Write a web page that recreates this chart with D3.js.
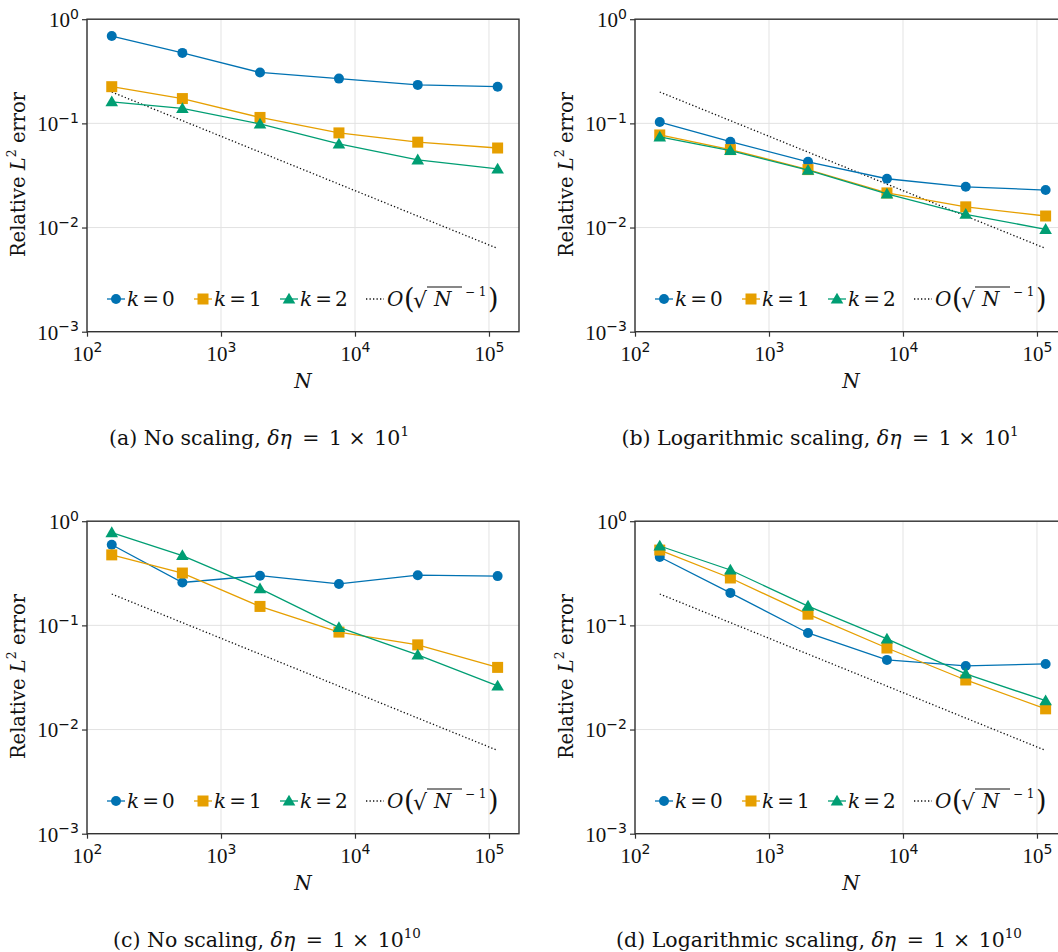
<!DOCTYPE html>
<html><head><meta charset="utf-8">
<script src="https://cdn.jsdelivr.net/npm/d3@7"></script>
<style>
body{margin:0;background:#fff;}
svg{display:block;}
</style></head>
<body>
<svg id="chart" width="1058" height="952"></svg>
<script>
// ---------- data ----------
const N = [153, 515, 1955, 7590, 29400, 116000];
const refN = [153, 116000];
const refY = [0.2, 0.0063];

const seriesNames = ["k = 0", "k = 1", "k = 2"];
const seriesColors = ["#0072B2", "#E69F00", "#009E73"];
const seriesShapes = ["circle", "square", "triangle"];

// (a) No scaling, dη = 1e1
const a_k0 = [0.689, 0.475, 0.308, 0.269, 0.234, 0.225];
const a_k1 = [0.225, 0.173, 0.114, 0.081, 0.066, 0.058];
const a_k2 = [0.161, 0.139, 0.0987, 0.0634, 0.0446, 0.0365];
// (b) Logarithmic scaling, dη = 1e1
const b_k0 = [0.103, 0.0667, 0.0427, 0.0294, 0.0246, 0.0229];
const b_k1 = [0.0774, 0.0560, 0.0360, 0.0215, 0.0158, 0.0129];
const b_k2 = [0.0741, 0.0548, 0.0355, 0.0210, 0.0134, 0.0096];
// (c) No scaling, dη = 1e10
const c_k0 = [0.594, 0.258, 0.300, 0.250, 0.303, 0.297];
const c_k1 = [0.475, 0.318, 0.152, 0.0862, 0.0650, 0.0395];
const c_k2 = [0.776, 0.468, 0.225, 0.0955, 0.0520, 0.0262];
// (d) Logarithmic scaling, dη = 1e10
const d_k0 = [0.453, 0.205, 0.0845, 0.0466, 0.0408, 0.0426];
const d_k1 = [0.528, 0.285, 0.128, 0.0606, 0.0299, 0.0158];
const d_k2 = [0.578, 0.340, 0.153, 0.0741, 0.0342, 0.0189];

const xTicks = [1e2, 1e3, 1e4, 1e5];
const xTickExp = ["2", "3", "4", "5"];
const yTicks = [1e-3, 1e-2, 1e-1, 1e0];
const yTickExp = ["\u22123", "\u22122", "\u22121", "0"];

const captionLabels = ["(a) No scaling, ", "(b) Logarithmic scaling, ", "(c) No scaling, ", "(d) Logarithmic scaling, "];
const captionExp = ["1", "1", "10", "10"];

const panels = [
  {ox: 0, oy: 0, data: [a_k0, a_k1, a_k2], cx: 259},
  {ox: 548, oy: 0, data: [b_k0, b_k1, b_k2], cx: 272},
  {ox: 0, oy: 502, data: [c_k0, c_k1, c_k2], cx: 267},
  {ox: 548, oy: 502, data: [d_k0, d_k1, d_k2], cx: 271}
];

// ---------- drawing ----------
const SERIF = "DejaVu Serif";
const DIGIT = "Liberation Serif";
const svg = d3.select("#chart");
const L = 87, R = 519, T = 19.2, B = 331.7;
const x = d3.scaleLog().domain([100, 1.675e5]).range([L, R]);
const y = d3.scaleLog().domain([1e-3, 1]).range([B, T]);

function marker(g, shape, color, cx, cy) {
  if (shape === "circle") {
    g.append("circle").attr("cx", cx).attr("cy", cy).attr("r", 5).attr("fill", color);
  } else if (shape === "square") {
    g.append("rect").attr("x", cx - 5.5).attr("y", cy - 5.5).attr("width", 11).attr("height", 11).attr("fill", color);
  } else {
    const s = 6.3;
    g.append("path").attr("d", `M${cx},${cy - s}L${cx + s},${cy + s * 0.72}L${cx - s},${cy + s * 0.72}Z`).attr("fill", color);
  }
}

panels.forEach((p, pi) => {
  const g = svg.append("g").attr("transform", `translate(${p.ox},${p.oy})`);

  // grid
  g.append("g").selectAll("line").data(xTicks).join("line")
    .attr("x1", d => x(d)).attr("x2", d => x(d)).attr("y1", T).attr("y2", B)
    .attr("stroke", "#e3e3e3").attr("stroke-width", 1);
  g.append("g").selectAll("line").data(yTicks).join("line")
    .attr("x1", L).attr("x2", R).attr("y1", d => y(d)).attr("y2", d => y(d))
    .attr("stroke", "#e3e3e3").attr("stroke-width", 1);

  // axes
  const xa = g.append("g").attr("transform", `translate(0,${B})`)
    .call(d3.axisBottom(x).tickValues(xTicks).tickSize(5).tickPadding(8).tickFormat(() => ""));
  const ya = g.append("g").attr("transform", `translate(${L},0)`)
    .call(d3.axisLeft(y).tickValues(yTicks).tickSize(5).tickPadding(6).tickFormat(() => ""));
  [xa, ya].forEach(a => {
    a.select(".domain").remove();
    a.selectAll(".tick line").attr("stroke", "#333").attr("stroke-width", 1.2);
  });
  xa.selectAll(".tick text").each(function(d, i) {
    const t = d3.select(this).attr("font-size", 21).attr("font-family", DIGIT).attr("fill", "#111")
      .attr("dy", "1em").attr("y", 8);
    t.text("10");
    t.append("tspan").attr("font-size", 14).attr("dy", "-0.6em").attr("font-family", "DejaVu Sans").text(xTickExp[i]);
  });
  ya.selectAll(".tick text").each(function(d, i) {
    const t = d3.select(this).attr("font-size", 21).attr("font-family", DIGIT).attr("fill", "#111")
      .attr("dy", "0.35em").attr("x", -8);
    t.text("10");
    t.append("tspan").attr("font-size", 14).attr("dy", "-0.6em").attr("font-family", "DejaVu Sans").text(yTickExp[i]);
  });

  // frame
  g.append("rect").attr("x", L).attr("y", T).attr("width", R - L).attr("height", B - T)
    .attr("fill", "none").attr("stroke", "#333").attr("stroke-width", 1.4);

  // reference line
  g.append("path").datum(refN.map((n, i) => [n, refY[i]]))
    .attr("d", d3.line().x(d => x(d[0])).y(d => y(d[1])))
    .attr("fill", "none").attr("stroke", "#111").attr("stroke-width", 1.3).attr("stroke-dasharray", "1.3,2.2");

  // series
  p.data.forEach((vals, si) => {
    const pts = N.map((n, i) => [n, vals[i]]);
    g.append("path").datum(pts)
      .attr("d", d3.line().x(d => x(d[0])).y(d => y(d[1])))
      .attr("fill", "none").attr("stroke", seriesColors[si]).attr("stroke-width", 1.3);
    const mg = g.append("g");
    pts.forEach(d => marker(mg, seriesShapes[si], seriesColors[si], x(d[0]), y(d[1])));
  });

  // axis labels
  g.append("text").attr("x", (L + R) / 2).attr("y", 388).attr("text-anchor", "middle")
    .attr("font-family", SERIF).attr("fill", "#111")
    .attr("font-size", 20).attr("font-style", "italic").text("N");
  const yl = g.append("text").attr("transform", `translate(25,${(T + B) / 2 - 1}) rotate(-90)`)
    .attr("text-anchor", "middle").attr("font-size", 19.5).attr("font-family", SERIF).attr("fill", "#111");
  yl.append("tspan").text("Relative ");
  yl.append("tspan").attr("font-style", "italic").text("L");
  yl.append("tspan").attr("font-size", 12.5).attr("dy", "-0.7em").text("2");
  yl.append("tspan").attr("dy", "0.45em").text(" error");

  // legend
  const lg = g.append("g").attr("transform", "translate(0,299)");
  const items = [{x0: 107, tx: 127}, {x0: 194, tx: 214}, {x0: 280, tx: 300}];
  items.forEach((it, si) => {
    lg.append("line").attr("x1", it.x0).attr("x2", it.x0 + 18).attr("y1", 0).attr("y2", 0)
      .attr("stroke", seriesColors[si]).attr("stroke-width", 1.3);
    marker(lg, seriesShapes[si], seriesColors[si], it.x0 + 9, 0);
    const t = lg.append("text").attr("x", it.tx).attr("y", 7).attr("font-size", 20)
      .attr("font-family", SERIF).attr("fill", "#111");
    const parts = seriesNames[si].split(" = ");
    t.append("tspan").attr("font-style", "italic").text(parts[0]);
    t.append("tspan").attr("dx", 3).text("=");
    t.append("tspan").attr("dx", 3).text(parts[1]);
  });
  lg.append("line").attr("x1", 366).attr("x2", 384).attr("y1", 0).attr("y2", 0)
    .attr("stroke", "#111").attr("stroke-width", 1.3).attr("stroke-dasharray", "1.3,2.2");
  const lt = (xx, yy, fs, txt, it) => lg.append("text").attr("x", xx).attr("y", yy).attr("font-size", fs)
    .attr("font-family", SERIF).attr("fill", "#111").attr("font-style", it ? "italic" : "normal").text(txt);
  lt(387, 7, 20, "O", true);
  lt(404, 9, 27, "(", false);
  lt(413, 9, 22, "\u221A", false);
  lg.append("line").attr("x1", 427).attr("x2", 462).attr("y1", -12).attr("y2", -12).attr("stroke", "#111").attr("stroke-width", 1.1);
  lt(434, 7, 20, "N", true);
  lt(465, -3, 12, "\u2212 1", false);
  lt(488, 9, 27, ")", false);

  // caption
  const cap = g.append("text").attr("x", p.cx).attr("y", 445).attr("text-anchor", "middle").attr("font-size", 20.5)
    .attr("font-family", SERIF).attr("fill", "#111");
  cap.append("tspan").text(captionLabels[pi]);
  cap.append("tspan").attr("font-style", "italic").text("\u03B4\u03B7");
  cap.append("tspan").attr("dx", 4).text(" = ");
  cap.append("tspan").attr("dx", 3).text("1 \u00D7 ");
  cap.append("tspan").attr("dx", 2).text("10");
  cap.append("tspan").attr("font-size", 13.5).attr("dy", "-0.65em").text(captionExp[pi]);
});
</script>
</body></html>
